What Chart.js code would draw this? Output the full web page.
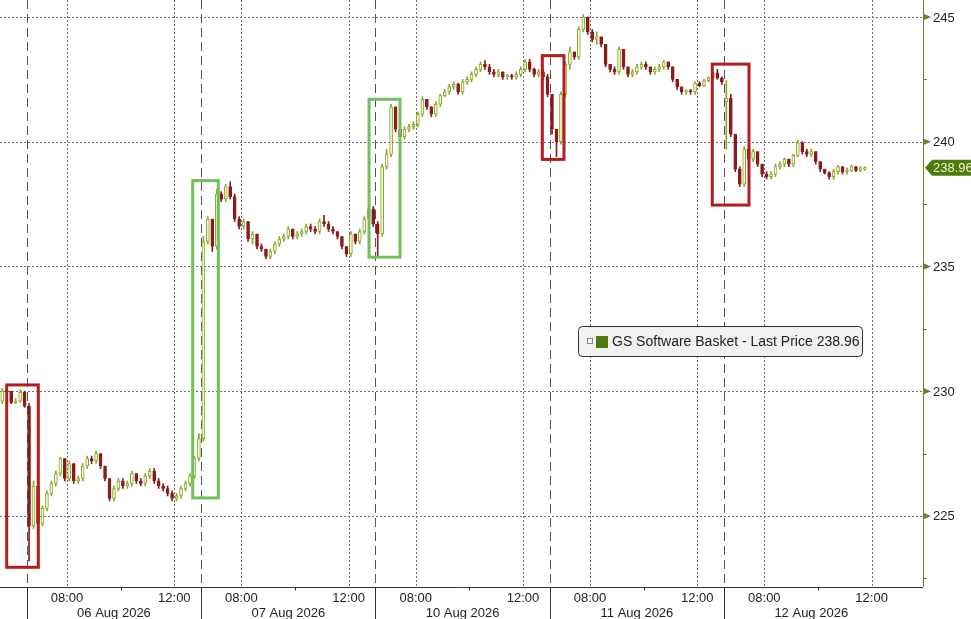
<!DOCTYPE html>
<html>
<head>
<meta charset="utf-8">
<script src="https://cdn.jsdelivr.net/npm/chart.js@4.4.1/dist/chart.umd.min.js"></script>
<style>
  html, body { margin: 0; padding: 0; background: #fff; }
  #wrap { width: 971px; height: 619px; position: relative; }
</style>
</head>
<body>
<div id="wrap"><canvas id="chart"></canvas></div>
<script>
// session labels + time ticks (Pacific time, 06:30-13:00, 10 min bars)
const dayLabels = ['06 Aug 2026', '07 Aug 2026', '10 Aug 2026', '11 Aug 2026', '12 Aug 2026'];
const timeLabels = ['08:00', '12:00'];
const timeHours = [8, 12];
const minorHours = [10];
const sessionOpen = 6.5;
const barsPerHour = 6;
const barsPerDay = 39;
const yTicks = [225, 230, 235, 240, 245];
const seriesName = 'GS Software Basket - Last Price';

// candles: [open, high, low, close]
const aug05 = [
  [229.6, 230.1, 229.5, 230.0], [230.0, 230.1, 229.9, 230.0], [230.0, 230.0, 229.5, 229.55],
  [229.55, 229.7, 229.5, 229.6], [229.6, 230.05, 229.55, 229.95], [229.95, 230.0, 229.35, 229.4]
];
const aug06 = [
  [229.4, 229.5, 223.2, 224.6], [224.6, 226.4, 224.5, 226.2], [226.2, 226.3, 224.5, 224.7],
  [224.7, 225.4, 224.6, 225.3], [225.3, 226.0, 225.2, 225.9], [225.9, 226.4, 225.8, 226.3],
  [226.3, 226.8, 226.2, 226.7], [226.7, 227.35, 226.6, 227.3], [227.3, 227.3, 226.4, 226.5],
  [226.5, 227.2, 226.4, 227.1], [227.1, 227.1, 226.3, 226.4], [226.4, 226.6, 226.3, 226.5],
  [226.5, 227.1, 226.4, 227.0], [227.0, 227.4, 226.9, 227.3], [227.3, 227.4, 227.1, 227.2],
  [227.2, 227.6, 227.1, 227.5], [227.5, 227.5, 226.9, 227.0], [227.0, 227.0, 226.4, 226.5],
  [226.5, 226.5, 225.6, 225.7], [225.7, 226.2, 225.6, 226.1], [226.1, 226.5, 226.0, 226.4],
  [226.4, 226.5, 226.1, 226.2], [226.2, 226.4, 226.1, 226.3], [226.3, 226.8, 226.2, 226.7],
  [226.7, 226.7, 226.3, 226.4], [226.4, 226.5, 226.2, 226.3], [226.3, 226.7, 226.2, 226.6],
  [226.6, 226.9, 226.5, 226.8], [226.8, 226.9, 226.3, 226.4], [226.4, 226.5, 226.1, 226.2],
  [226.2, 226.3, 226.0, 226.1], [226.1, 226.2, 225.8, 225.9], [225.9, 226.0, 225.6, 225.7],
  [225.7, 225.9, 225.6, 225.8], [225.8, 226.2, 225.7, 226.1], [226.1, 226.4, 226.0, 226.3],
  [226.3, 226.7, 226.2, 226.6], [226.6, 227.4, 226.5, 227.3], [227.3, 228.3, 227.2, 228.1]
];
const aug07 = [
  [228.1, 236.2, 228.0, 236.0], [236.0, 237.0, 235.9, 236.9], [236.9, 236.9, 235.6, 235.8],
  [235.8, 238.1, 235.7, 237.9], [237.9, 238.0, 237.6, 237.7], [237.7, 238.3, 237.6, 238.2],
  [238.2, 238.4, 237.7, 237.8], [237.8, 237.9, 236.8, 236.9], [236.9, 237.0, 236.5, 236.6],
  [236.6, 236.9, 236.5, 236.8], [236.8, 236.8, 236.0, 236.1], [236.1, 236.4, 235.9, 236.3],
  [236.3, 236.3, 235.7, 235.8], [235.8, 235.9, 235.6, 235.7], [235.7, 235.7, 235.3, 235.4],
  [235.4, 235.7, 235.3, 235.6], [235.6, 236.0, 235.5, 235.9], [235.9, 236.2, 235.8, 236.1],
  [236.1, 236.3, 236.0, 236.2], [236.2, 236.6, 236.1, 236.5], [236.5, 236.5, 236.1, 236.2],
  [236.2, 236.4, 236.1, 236.3], [236.3, 236.5, 236.2, 236.4], [236.4, 236.7, 236.3, 236.6],
  [236.6, 236.7, 236.4, 236.5], [236.5, 236.6, 236.3, 236.4], [236.4, 236.9, 236.3, 236.8],
  [236.8, 237.05, 236.6, 236.7], [236.7, 236.8, 236.4, 236.5], [236.5, 236.6, 236.3, 236.4],
  [236.4, 236.4, 236.1, 236.2], [236.2, 236.2, 235.7, 235.8], [235.8, 235.8, 235.4, 235.5],
  [235.5, 236.4, 235.4, 236.3], [236.3, 236.3, 235.9, 236.0], [236.0, 236.5, 235.9, 236.4],
  [236.4, 237.0, 236.3, 236.9], [236.9, 237.4, 236.8, 237.3], [237.3, 237.4, 236.6, 236.7]
];
const aug10 = [
  [236.7, 236.8, 235.4, 236.3], [236.3, 239.1, 236.2, 239.0], [239.0, 239.7, 238.9, 239.5],
  [239.5, 241.5, 239.4, 241.4], [241.4, 241.4, 240.4, 240.5], [240.5, 240.6, 239.7, 240.2],
  [240.2, 240.6, 240.1, 240.5], [240.5, 240.7, 240.4, 240.6], [240.6, 240.8, 240.5, 240.7],
  [240.7, 241.2, 240.6, 241.1], [241.1, 241.8, 241.0, 241.7], [241.7, 241.7, 241.3, 241.4],
  [241.4, 241.4, 241.0, 241.1], [241.1, 241.6, 241.0, 241.5], [241.5, 241.9, 241.4, 241.85],
  [241.85, 242.1, 241.8, 242.0], [242.0, 242.3, 241.9, 242.2], [242.2, 242.4, 242.1, 242.3],
  [242.3, 242.35, 241.9, 242.0], [242.0, 242.5, 241.9, 242.4], [242.4, 242.6, 242.3, 242.5],
  [242.5, 242.8, 242.4, 242.7], [242.7, 243.0, 242.6, 242.9], [242.9, 243.2, 242.8, 243.1],
  [243.1, 243.25, 242.9, 243.0], [243.0, 243.1, 242.7, 242.8], [242.8, 242.9, 242.6, 242.7],
  [242.7, 242.9, 242.6, 242.8], [242.8, 242.8, 242.5, 242.6], [242.6, 242.7, 242.5, 242.65],
  [242.65, 242.7, 242.5, 242.6], [242.6, 242.8, 242.5, 242.7], [242.7, 243.0, 242.6, 242.9],
  [242.9, 243.3, 242.8, 243.2], [243.2, 243.3, 242.8, 242.9], [242.9, 242.95, 242.6, 242.7],
  [242.7, 242.9, 242.6, 242.8], [242.8, 242.9, 242.5, 242.6], [242.6, 242.7, 241.8, 241.9]
];
const aug11 = [
  [241.9, 241.9, 240.3, 240.5], [240.5, 240.5, 239.4, 240.0], [240.0, 242.0, 239.9, 241.9],
  [241.9, 243.2, 241.8, 243.1], [243.1, 243.8, 242.9, 243.6], [243.6, 243.6, 243.3, 243.4],
  [243.4, 244.6, 243.3, 244.5], [244.5, 245.1, 244.4, 245.0], [245.0, 245.0, 244.3, 244.4],
  [244.4, 244.5, 244.0, 244.1], [244.1, 244.4, 243.9, 244.2], [244.2, 244.2, 243.8, 243.9],
  [243.9, 243.9, 243.0, 243.1], [243.1, 243.1, 242.8, 242.9], [242.9, 243.0, 242.7, 242.8],
  [242.8, 243.8, 242.7, 243.7], [243.7, 243.7, 242.9, 243.0], [243.0, 243.0, 242.6, 242.7],
  [242.7, 242.9, 242.6, 242.8], [242.8, 243.1, 242.7, 243.0], [243.0, 243.2, 242.9, 243.1],
  [243.1, 243.2, 242.9, 243.0], [243.0, 243.0, 242.7, 242.8], [242.8, 243.0, 242.7, 242.9],
  [242.9, 243.1, 242.8, 243.0], [243.0, 243.25, 242.9, 243.2], [243.2, 243.2, 242.9, 243.0],
  [243.0, 243.0, 242.4, 242.5], [242.5, 242.5, 242.1, 242.2], [242.2, 242.2, 241.9, 242.0],
  [242.0, 242.1, 241.9, 242.05], [242.05, 242.1, 241.9, 242.0], [242.0, 242.4, 241.9, 242.35],
  [242.35, 242.4, 242.2, 242.25], [242.25, 242.5, 242.2, 242.45], [242.45, 242.6, 242.4, 242.55],
  [242.55, 242.8, 242.5, 242.75], [242.75, 242.9, 242.5, 242.55], [242.55, 242.6, 242.3, 242.4]
];
const aug12 = [
  [241.6, 242.45, 239.7, 241.75], [241.75, 241.9, 240.2, 240.3], [240.3, 240.3, 238.8, 238.9],
  [238.9, 239.0, 238.2, 238.3], [238.3, 239.8, 238.2, 239.7], [239.7, 239.7, 239.2, 239.3],
  [239.3, 239.7, 239.2, 239.6], [239.6, 239.6, 239.0, 239.1], [239.1, 239.1, 238.6, 238.7],
  [238.7, 238.8, 238.5, 238.6], [238.6, 238.8, 238.5, 238.7], [238.7, 239.1, 238.6, 239.0],
  [239.0, 239.2, 238.9, 239.1], [239.1, 239.35, 239.0, 239.3], [239.3, 239.3, 239.0, 239.1],
  [239.1, 239.5, 239.0, 239.45], [239.45, 240.05, 239.4, 239.95], [239.95, 240.0, 239.5, 239.6],
  [239.6, 239.7, 239.4, 239.5], [239.5, 239.7, 239.4, 239.6], [239.6, 239.6, 239.1, 239.2],
  [239.2, 239.2, 238.8, 238.9], [238.9, 238.9, 238.7, 238.75], [238.75, 238.8, 238.5, 238.6],
  [238.6, 238.9, 238.5, 238.8], [238.8, 239.05, 238.7, 239.0], [239.0, 239.0, 238.7, 238.8],
  [238.8, 238.95, 238.7, 238.85], [238.85, 239.05, 238.8, 239.0], [239.0, 239.0, 238.8, 238.85],
  [238.85, 239.0, 238.8, 238.95], [238.9, 239.0, 238.85, 238.96]
];

// highlight boxes (bar units / price)
const highlights = [
  { x0: -4.5, x1: 2.57, y0: 230.25, y1: 222.94, color: '#b51d1d' },
  { x0: 37.11, x1: 42.84, y0: 238.44, y1: 225.72, color: '#72bf5c' },
  { x0: 76.56, x1: 83.49, y0: 241.70, y1: 235.37, color: '#72bf5c' },
  { x0: 115.33, x1: 120.18, y0: 243.45, y1: 239.29, color: '#b51d1d' },
  { x0: 153.36, x1: 161.57, y0: 243.11, y1: 237.46, color: '#b51d1d' }
];

const upLine = '#8aa82a';
const upFill = '#f3f7d6';
const downColor = '#8c1b1b';
const FONT = '"Liberation Sans", Arial, sans-serif';

const sessions = [{ bars: aug05, start: -aug05.length }];
[aug06, aug07, aug10, aug11, aug12].forEach((bars, i) => sessions.push({ bars, start: i * barsPerDay }));

const candles = [];
sessions.forEach(s => {
  s.bars.forEach((b, k) => {
    candles.push({ x: s.start + k + 0.5, o: b[0], h: b[1], l: b[2], c: b[3] });
  });
});
const isUp = c => c.c >= c.o;
const lastPrice = aug12[aug12.length - 1][3];

function line(ctx, x1, y1, x2, y2) {
  ctx.beginPath();
  ctx.moveTo(x1, y1);
  ctx.lineTo(x2, y2);
  ctx.stroke();
}

const decor = {
  id: 'decor',
  beforeDatasetsDraw(chart) {
    const { ctx, chartArea: a, scales: { x, y } } = chart;
    ctx.save();
    ctx.lineWidth = 1;

    // horizontal dotted grid
    ctx.strokeStyle = '#707070';
    ctx.setLineDash([2, 2]);
    yTicks.forEach(v => {
      const py = Math.round(y.getPixelForValue(v)) + 0.5;
      line(ctx, a.left, py, a.right, py);
    });

    // vertical dotted at 08:00 / 12:00
    dayLabels.forEach((d, i) => {
      timeHours.forEach(h => {
        const px = Math.round(x.getPixelForValue(i * barsPerDay + (h - sessionOpen) * barsPerHour)) + 0.5;
        line(ctx, px, a.top, px, a.bottom);
      });
    });

    // dashed session starts
    ctx.strokeStyle = '#555';
    ctx.setLineDash([9, 5]);
    dayLabels.forEach((d, i) => {
      const px = Math.round(x.getPixelForValue(i * barsPerDay)) + 0.5;
      line(ctx, px, a.top, px, a.bottom);
    });
    ctx.restore();
  },
  afterDraw(chart) {
    const { ctx, chartArea: a, scales: { x, y } } = chart;
    const W = chart.width, H = chart.height;
    ctx.save();

    // highlight boxes
    ctx.lineWidth = 3;
    highlights.forEach(b => {
      const x0 = x.getPixelForValue(b.x0), x1 = x.getPixelForValue(b.x1);
      const y0 = y.getPixelForValue(b.y0), y1 = y.getPixelForValue(b.y1);
      ctx.strokeStyle = b.color;
      ctx.strokeRect(x0, y0, x1 - x0, y1 - y0);
    });

    // bottom axis
    ctx.lineWidth = 1;
    ctx.strokeStyle = '#333';
    const by = Math.round(a.bottom) + 0.5;
    line(ctx, a.left, by, a.right, by);
    dayLabels.forEach((d, i) => {
      const px = Math.round(x.getPixelForValue(i * barsPerDay)) + 0.5;
      line(ctx, px, by, px, H);
      minorHours.forEach(h => {
        const mx = Math.round(x.getPixelForValue(i * barsPerDay + (h - sessionOpen) * barsPerHour)) + 0.5;
        line(ctx, mx, by, mx, by + 3);
      });
    });
    ctx.fillStyle = '#222';
    ctx.font = '13px ' + FONT;
    ctx.textAlign = 'center';
    ctx.textBaseline = 'middle';
    dayLabels.forEach((d, i) => {
      timeHours.forEach((h, j) => {
        const px = x.getPixelForValue(i * barsPerDay + (h - sessionOpen) * barsPerHour);
        ctx.fillText(timeLabels[j], px, a.bottom + 11);
      });
      const cx = x.getPixelForValue(i * barsPerDay + barsPerDay / 2);
      ctx.fillText(d, cx, a.bottom + 26);
    });

    // right axis: line, arrow ticks, minor ticks, labels
    const rx = Math.round(a.right) + 0.5;
    ctx.strokeStyle = '#6f8030';
    line(ctx, rx, a.top, rx, a.bottom);
    yTicks.forEach(v => {
      const py = y.getPixelForValue(v);
      ctx.fillStyle = '#6f8030';
      ctx.beginPath();
      ctx.moveTo(a.right, py - 3.5);
      ctx.lineTo(a.right + 8, py);
      ctx.lineTo(a.right, py + 3.5);
      ctx.closePath();
      ctx.fill();
      const my = Math.round(y.getPixelForValue(v - 2.5)) + 0.5;
      line(ctx, a.right, my, a.right + 4, my);
      ctx.fillStyle = '#222';
      ctx.textAlign = 'left';
      ctx.font = '13px ' + FONT;
      ctx.fillText(String(v), a.right + 10, py + 1);
    });

    // last price tag
    const ty = y.getPixelForValue(lastPrice);
    ctx.fillStyle = '#4e7c0c';
    ctx.beginPath();
    ctx.moveTo(a.right + 2, ty);
    ctx.lineTo(a.right + 9, ty - 8);
    ctx.lineTo(W, ty - 8);
    ctx.lineTo(W, ty + 8);
    ctx.lineTo(a.right + 9, ty + 8);
    ctx.closePath();
    ctx.fill();
    ctx.fillStyle = '#e8f3c4';
    ctx.textAlign = 'left';
    ctx.font = '13px ' + FONT;
    ctx.fillText(lastPrice.toFixed(2), a.right + 10, ty + 1);

    // legend box
    const lx = 578, ly = 326, lw = 284, lh = 30;
    ctx.beginPath();
    ctx.roundRect(lx + 0.5, ly + 0.5, lw, lh, 4);
    ctx.fillStyle = '#f1f1f1';
    ctx.fill();
    ctx.strokeStyle = '#333';
    ctx.stroke();
    ctx.strokeStyle = '#888';
    ctx.strokeRect(lx + 9.5, ly + 12.5, 5, 5);
    ctx.fillStyle = '#4e7c0c';
    ctx.fillRect(lx + 18, ly + 10, 12, 12);
    ctx.fillStyle = '#222';
    ctx.font = '14px ' + FONT;
    ctx.textBaseline = 'middle';
    ctx.fillText(seriesName + ' ' + lastPrice.toFixed(2), lx + 34, ly + 16);

    ctx.restore();
  }
};

new Chart(document.getElementById('chart'), {
  type: 'bar',
  data: {
    datasets: [
      {
        label: 'body',
        data: candles.map(c => ({ x: c.x, y: [c.o, c.c] })),
        backgroundColor: candles.map(c => isUp(c) ? upFill : downColor),
        borderColor: candles.map(c => isUp(c) ? upLine : downColor),
        borderWidth: 1,
        borderSkipped: false,
        barThickness: 3,
        minBarLength: 1,
        grouped: false,
        order: 0
      },
      {
        label: 'wick',
        data: candles.map(c => ({ x: c.x, y: [c.l, c.h] })),
        backgroundColor: candles.map(c => isUp(c) ? upLine : downColor),
        borderWidth: 0,
        barThickness: 1,
        grouped: false,
        order: 1
      }
    ]
  },
  options: {
    responsive: true,
    maintainAspectRatio: false,
    animation: false,
    layout: { padding: 0 },
    plugins: { legend: { display: false }, tooltip: { enabled: false } },
    scales: {
      x: {
        type: 'linear',
        min: -aug05.length,
        max: 200.5,
        offset: false,
        grid: { display: false },
        border: { display: false },
        ticks: { display: false },
        afterFit(scale) { scale.height = 32; }
      },
      y: {
        position: 'right',
        min: 222.15,
        max: 245.68,
        grid: { display: false },
        border: { display: false },
        ticks: { display: false },
        afterFit(scale) { scale.width = 48; }
      }
    }
  },
  plugins: [decor]
});
</script>
</body>
</html>
